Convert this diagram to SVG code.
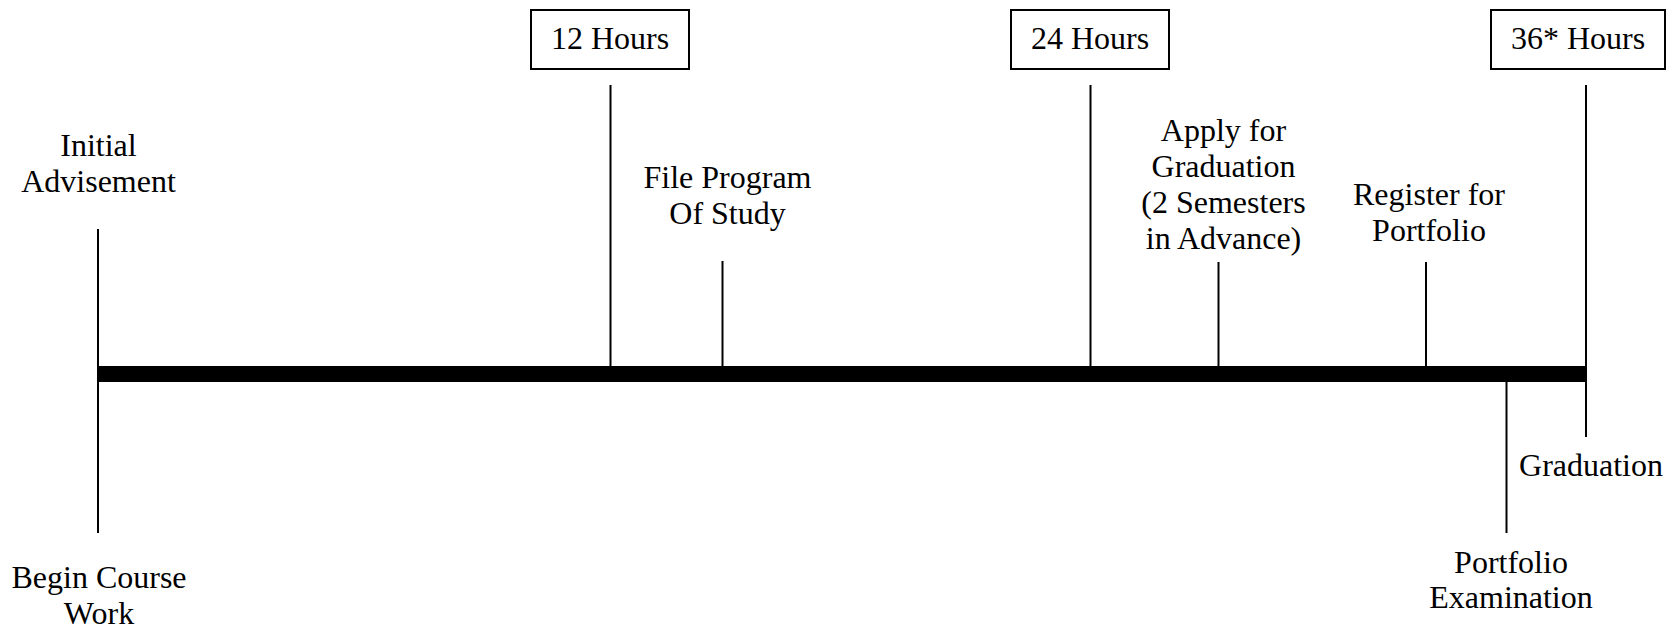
<svg xmlns="http://www.w3.org/2000/svg" width="1675" height="629" viewBox="0 0 1675 629">
<style>
.t{font-family:"Liberation Serif","Times New Roman",serif;font-size:32px;fill:#000;text-anchor:middle}
.box{fill:#fff;stroke:#000;stroke-width:2}
.ln{stroke:#000;stroke-width:2;fill:none}
</style>
<rect width="1675" height="629" fill="#fff"/>
<g id="connectors">
<rect x="98" y="366" width="1489" height="16" fill="#000"/>
<line class="ln" x1="98" y1="229" x2="98" y2="533"/>
<line class="ln" x1="610.5" y1="85" x2="610.5" y2="367"/>
<line class="ln" x1="722.5" y1="261" x2="722.5" y2="367"/>
<line class="ln" x1="1090.5" y1="85" x2="1090.5" y2="367"/>
<line class="ln" x1="1218.5" y1="262" x2="1218.5" y2="367"/>
<line class="ln" x1="1426" y1="262" x2="1426" y2="367"/>
<line class="ln" x1="1586" y1="85" x2="1586" y2="437"/>
<line class="ln" x1="1506.5" y1="381" x2="1506.5" y2="533"/>
</g>
<g id="box12"><rect class="box" x="531" y="10" width="158" height="59"/><text class="t" x="610" y="49">12 Hours</text></g>
<g id="box24"><rect class="box" x="1011" y="10" width="158" height="59"/><text class="t" x="1090" y="49">24 Hours</text></g>
<g id="box36"><rect class="box" x="1491" y="10" width="174" height="59"/><text class="t" x="1578" y="49">36* Hours</text></g>
<g id="initial"><text class="t" x="98.5" y="156">Initial</text><text class="t" x="98.5" y="192">Advisement</text></g>
<g id="begin"><text class="t" x="99" y="588">Begin Course</text><text class="t" x="99" y="624">Work</text></g>
<g id="file"><text class="t" x="727.5" y="188">File Program</text><text class="t" x="727.5" y="224">Of Study</text></g>
<g id="apply"><text class="t" x="1223.5" y="141">Apply for</text><text class="t" x="1223.5" y="177">Graduation</text><text class="t" x="1223.5" y="213">(2 Semesters</text><text class="t" x="1223.5" y="249">in Advance)</text></g>
<g id="register"><text class="t" x="1429" y="205">Register for</text><text class="t" x="1429" y="241">Portfolio</text></g>
<g id="graduation"><text class="t" x="1591" y="476">Graduation</text></g>
<g id="portfolio"><text class="t" x="1511" y="573">Portfolio</text><text class="t" x="1511" y="608">Examination</text></g>
</svg>
